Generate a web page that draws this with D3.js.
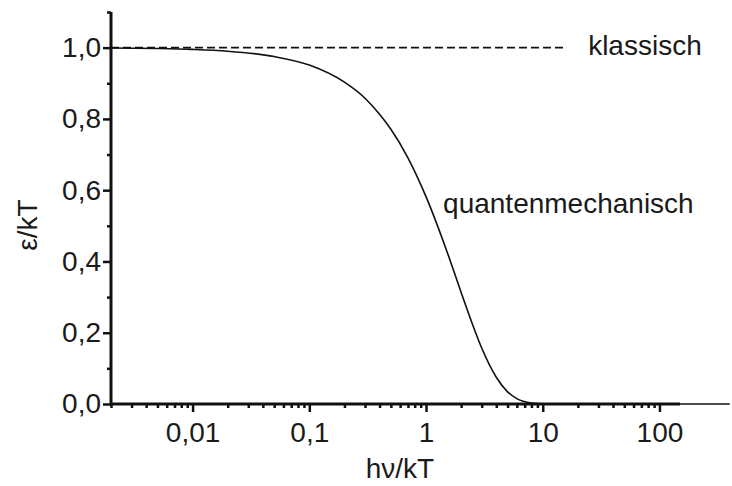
<!DOCTYPE html>
<html>
<head>
<meta charset="utf-8">
<script src="https://cdn.jsdelivr.net/npm/d3@7"></script>
<style>
  body { margin: 0; background: #fff; }
  svg text { font-family: "Liberation Sans", Arial, sans-serif; fill: #1a1a1a; }
</style>
</head>
<body>
<svg id="chart" width="732" height="486"></svg>
<script>
// h*nu/kT values and eps/kT values
var xValues = [0.002, 0.005, 0.01, 0.02, 0.05, 0.1, 0.2, 0.3, 0.4, 0.5, 0.7, 1, 1.5, 2, 2.5, 3, 4, 5, 6, 8, 10, 15, 30, 100, 400];
var yValues = [0.999, 0.9975, 0.995, 0.990, 0.975, 0.951, 0.903, 0.858, 0.813, 0.771, 0.691, 0.582, 0.431, 0.313, 0.224, 0.157, 0.075, 0.034, 0.015, 0.0027, 0.0005, 0, 0, 0, 0];

// classical limit (dashed)
var classicX = [0.002, 16];
var classicY = [1, 1];

var xTicks = [0.01, 0.1, 1, 10, 100];
var xTickLabels = ["0,01", "0,1", "1", "10", "100"];
var yTicks = [0, 0.2, 0.4, 0.6, 0.8, 1.0];
var yTickLabels = ["0,0", "0,2", "0,4", "0,6", "0,8", "1,0"];
var yMinor = [0.1, 0.3, 0.5, 0.7, 0.9, 1.1];

function main() {
    const svg = d3.select('#chart');
    const fs = 28;

    const xScale = d3.scaleLog().domain([0.002, 150]).range([111, 680]);
    const yScale = d3.scaleLinear().domain([0, 1.1]).range([404, 12]);

    // minor x ticks: 2..9 in each decade
    var xMinor = [];
    [0.001, 0.01, 0.1, 1, 10, 100].forEach(function (d) {
        for (var k = 2; k <= 9; k++) {
            var v = d * k;
            if (v >= 0.002 && v <= 150) xMinor.push(v);
        }
    });

    // x axis
    const gx = svg.append('g')
      .attr('transform', `translate(0, ${yScale(0)})`);
    gx.call(d3.axisBottom(xScale).tickValues(xMinor).tickSize(4).tickFormat(''));
    gx.call(g => g.selectAll('.domain').remove());
    const gx2 = svg.append('g')
      .attr('transform', `translate(0, ${yScale(0)})`)
      .call(d3.axisBottom(xScale).tickValues(xTicks).tickSize(8).tickPadding(10)
        .tickFormat(function (d, i) { return xTickLabels[i]; }));
    svg.selectAll('.tick line').attr('stroke', '#111').attr('stroke-width', 2.5);
    gx2.select('.domain').attr('stroke', '#111').attr('stroke-width', 3)
      .attr('d', `M${xScale.range()[0] - 1},0H${xScale.range()[1]}`);
    gx2.selectAll('text').attr('font-size', fs).style('font-family', '"Liberation Sans", Arial, sans-serif').attr('fill', '#1a1a1a');

    // y axis
    const gy = svg.append('g')
      .attr('transform', `translate(${xScale(0.002)}, 0)`);
    gy.call(d3.axisLeft(yScale).tickValues(yMinor).tickSize(4).tickFormat(''));
    gy.call(g => g.selectAll('.domain').remove());
    const gy2 = svg.append('g')
      .attr('transform', `translate(${xScale(0.002)}, 0)`)
      .call(d3.axisLeft(yScale).tickValues(yTicks).tickSize(8).tickPadding(2)
        .tickFormat(function (d, i) { return yTickLabels[i]; }));
    svg.selectAll('.tick line').attr('stroke', '#111').attr('stroke-width', 2.5);
    gy2.select('.domain').attr('stroke', '#111').attr('stroke-width', 3)
      .attr('d', `M0,${yScale(1.1)}V${yScale(0) + 1}`);
    gy2.selectAll('text').attr('font-size', fs).style('font-family', '"Liberation Sans", Arial, sans-serif').attr('fill', '#1a1a1a');

    // classical dashed line
    const line = d3.line()
      .x(function (d) { return xScale(d[0]); })
      .y(function (d) { return yScale(d[1]); });
    svg.append('path')
      .datum(d3.zip(classicX, classicY))
      .attr('d', line)
      .attr('fill', 'none')
      .attr('stroke', '#111')
      .attr('stroke-width', 1.6)
      .attr('stroke-dasharray', '8,4');

    // quantum curve
    svg.append('path')
      .datum(d3.zip(xValues, yValues))
      .attr('d', line.curve(d3.curveMonotoneX))
      .attr('fill', 'none')
      .attr('stroke', '#111')
      .attr('stroke-width', 1.6);

    // annotations
    svg.append('text')
      .attr('x', xScale(24.5)).attr('y', yScale(1) + 7)
      .attr('font-size', fs)
      .text('klassisch');
    svg.append('text')
      .attr('x', xScale(1.4)).attr('y', yScale(0.536))
      .attr('font-size', fs)
      .text('quantenmechanisch');

    // axis titles
    svg.append('text')
      .attr('x', 400).attr('y', 478)
      .attr('text-anchor', 'middle')
      .attr('font-size', fs)
      .text('h\u03BD/kT');
    svg.append('text')
      .attr('transform', 'translate(37, 225) rotate(-90)')
      .attr('text-anchor', 'middle')
      .attr('font-size', fs)
      .text('\u03B5/kT');
}
main();
</script>
</body>
</html>
